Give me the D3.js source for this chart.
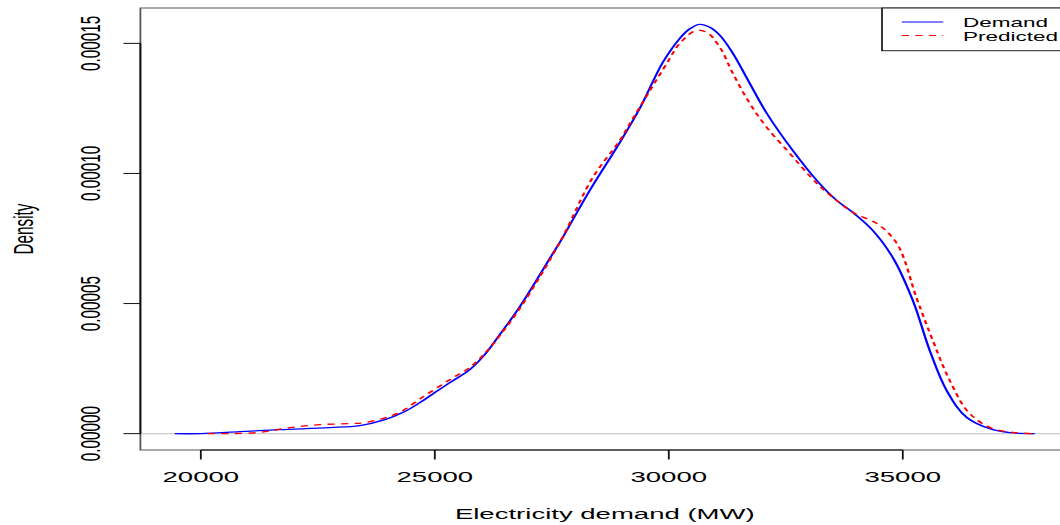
<!DOCTYPE html>
<html>
<head>
<meta charset="utf-8">
<script src="https://cdn.jsdelivr.net/npm/d3@7"></script>
<style>
  body { margin: 0; background: #fff; }
  text { font-family: "Liberation Sans", Arial, sans-serif; fill: #000; }
</style>
</head>
<body>
<div id="chart"></div>
<script>
// density curves (MW, density)
var demandX = [19444, 20000, 20833, 21688, 22756, 23397, 23932, 24359, 24679, 25000, 25321, 25748, 26068, 26389,
  26816, 27521, 27671, 28312, 28953, 29380, 29872, 30235, 30449, 30662, 30876, 31090, 31368, 31731, 32094,
  32650, 33163, 33590, 33932, 34359, 34786, 35214, 35577, 35940, 36368, 36859, 37287, 37821];
var demandY = [0, 0, 7.7e-7, 1.54e-6, 2.31e-6, 3.08e-6, 5.38e-6, 8.5e-6, 1.19e-5, 1.58e-5, 1.96e-5, 2.46e-5, 3.04e-5, 3.81e-5,
  4.88e-5, 6.92e-5, 7.35e-5, 9.35e-5, 1.119e-4, 1.25e-4, 1.427e-4, 1.519e-4, 1.556e-4, 1.573e-4, 1.562e-4, 1.531e-4, 1.462e-4, 1.346e-4, 1.231e-4,
  1.088e-4, 9.73e-5, 8.96e-5, 8.5e-5, 7.81e-5, 6.77e-5, 5.12e-5, 3.19e-5, 1.65e-5, 6.2e-6, 1.9e-6, 4e-7, 0];

var predX = [20150, 21197, 21902, 22543, 23184, 23504, 24188, 24786, 25363, 25748, 26068, 26389, 26816,
  27671, 28376, 28953, 29209, 29957, 30235, 30598, 30812, 31090, 31368, 31731, 32094, 32586, 33163, 33590,
  33975, 34445, 34872, 35299, 35641, 36004, 36432, 36923, 37394, 37821];
var predY = [0, 3.8e-7, 2.31e-6, 3.46e-6, 3.85e-6, 4.23e-6, 7.69e-6, 1.46e-5, 2.12e-5, 2.54e-5, 3.08e-5, 3.77e-5, 4.81e-5,
  7.35e-5, 9.85e-5, 1.127e-4, 1.204e-4, 1.423e-4, 1.5e-4, 1.55e-4, 1.542e-4, 1.485e-4, 1.385e-4, 1.269e-4, 1.177e-4, 1.077e-4, 9.62e-5, 8.96e-5,
  8.46e-5, 8.08e-5, 7.31e-5, 5.19e-5, 3.58e-5, 2.04e-5, 7.7e-6, 1.9e-6, 4e-7, 0];

var xTicks = [20000, 25000, 30000, 35000];
var yTicks = [0, 0.00005, 0.00010, 0.00015];
var seriesNames = ["Demand", "Predicted"];

// the picture is an R plot stretched sideways, so draw in plain units and stretch the group
var stretch = 1.8;
var width = 1060, height = 525;
var plot = { left: 78, right: 594, top: 8, bottom: 450 };

var svg = d3.select("#chart").append("svg")
    .attr("width", width)
    .attr("height", height);

var g = svg.append("g").attr("transform", `scale(${stretch},1)`);

// R style 4% padding on the ranges
var xr = d3.extent(demandX), xpad = (xr[1] - xr[0]) * 0.04;
var ymax = d3.max(demandY), ypad = ymax * 0.04;

var x = d3.scaleLinear().domain([xr[0] - xpad, xr[1] + xpad]).range([plot.left, plot.right]);
var y = d3.scaleLinear().domain([-ypad, ymax + ypad]).range([plot.bottom, plot.top]);

// zero line
g.append("line")
    .attr("x1", plot.left).attr("x2", plot.right)
    .attr("y1", y(0)).attr("y2", y(0))
    .style("stroke", "#bebebe").style("stroke-width", 1);

var line = d3.line()
    .x(d => x(d[0]))
    .y(d => y(d[1]))
    .curve(d3.curveCatmullRom.alpha(0.5));

g.append("path")
    .datum(demandX.map((v, i) => [v, demandY[i]]))
    .attr("d", line)
    .style("fill", "none")
    .style("stroke", "#0000ff")
    .style("stroke-width", 1.3);

g.append("path")
    .datum(predX.map((v, i) => [v, predY[i]]))
    .attr("d", line)
    .style("fill", "none")
    .style("stroke", "#ff0000")
    .style("stroke-width", 1.3)
    .style("stroke-dasharray", "4,3.5");

// box
g.append("rect")
    .attr("x", plot.left).attr("y", plot.top)
    .attr("width", plot.right - plot.left).attr("height", plot.bottom - plot.top)
    .style("fill", "none").style("stroke", "#555").style("stroke-width", 1);

// x axis
g.append("line")
    .attr("x1", x(xTicks[0])).attr("x2", x(xTicks[xTicks.length - 1]))
    .attr("y1", plot.bottom).attr("y2", plot.bottom)
    .style("stroke", "#111");
g.selectAll(".xtick").data(xTicks).enter().append("line")
    .attr("x1", d => x(d)).attr("x2", d => x(d))
    .attr("y1", plot.bottom).attr("y2", plot.bottom + 9.5)
    .style("stroke", "#111");
g.selectAll(".xlab").data(xTicks).enter().append("text")
    .attr("x", d => x(d)).attr("y", 482)
    .attr("text-anchor", "middle")
    .style("font-size", "15.3px")
    .text(d => d);

// y axis
g.append("line")
    .attr("x1", plot.left).attr("x2", plot.left)
    .attr("y1", y(yTicks[0])).attr("y2", y(yTicks[yTicks.length - 1]))
    .style("stroke", "#111");
g.selectAll(".ytick").data(yTicks).enter().append("line")
    .attr("x1", plot.left - 9.4).attr("x2", plot.left)
    .attr("y1", d => y(d)).attr("y2", d => y(d))
    .style("stroke", "#111");
g.selectAll(".ylab").data(yTicks).enter().append("text")
    .attr("transform", d => `translate(55.6,${y(d)}) rotate(-90)`)
    .attr("text-anchor", "middle")
    .style("font-size", "15.3px")
    .text(d => d3.format(".5f")(d));

// titles
g.append("text")
    .attr("x", (plot.left + plot.right) / 2).attr("y", 519)
    .attr("text-anchor", "middle")
    .style("font-size", "15.3px")
    .text("Electricity demand (MW)");
g.append("text")
    .attr("transform", `translate(18.5,${(plot.top + plot.bottom) / 2}) rotate(-90)`)
    .attr("text-anchor", "middle")
    .style("font-size", "15.3px")
    .text("Density");

// legend
var legend = g.append("g");
legend.append("rect")
    .attr("x", 490).attr("y", plot.top)
    .attr("width", plot.right - 490).attr("height", 42.7)
    .style("fill", "#fff").style("stroke", "#222").style("stroke-width", 1);
var legendY = [22, 35.5];
var legendCol = ["#0000ff", "#ff0000"];
seriesNames.forEach(function (name, i) {
    legend.append("line")
        .attr("x1", 501).attr("x2", 524)
        .attr("y1", legendY[i]).attr("y2", legendY[i])
        .style("stroke", legendCol[i])
        .style("stroke-width", 1)
        .style("stroke-dasharray", i == 1 ? "4,3.5" : null);
    legend.append("text")
        .attr("x", 535).attr("y", legendY[i] + 5.3)
        .style("font-size", "12.5px")
        .text(name);
});
</script>
</body>
</html>
